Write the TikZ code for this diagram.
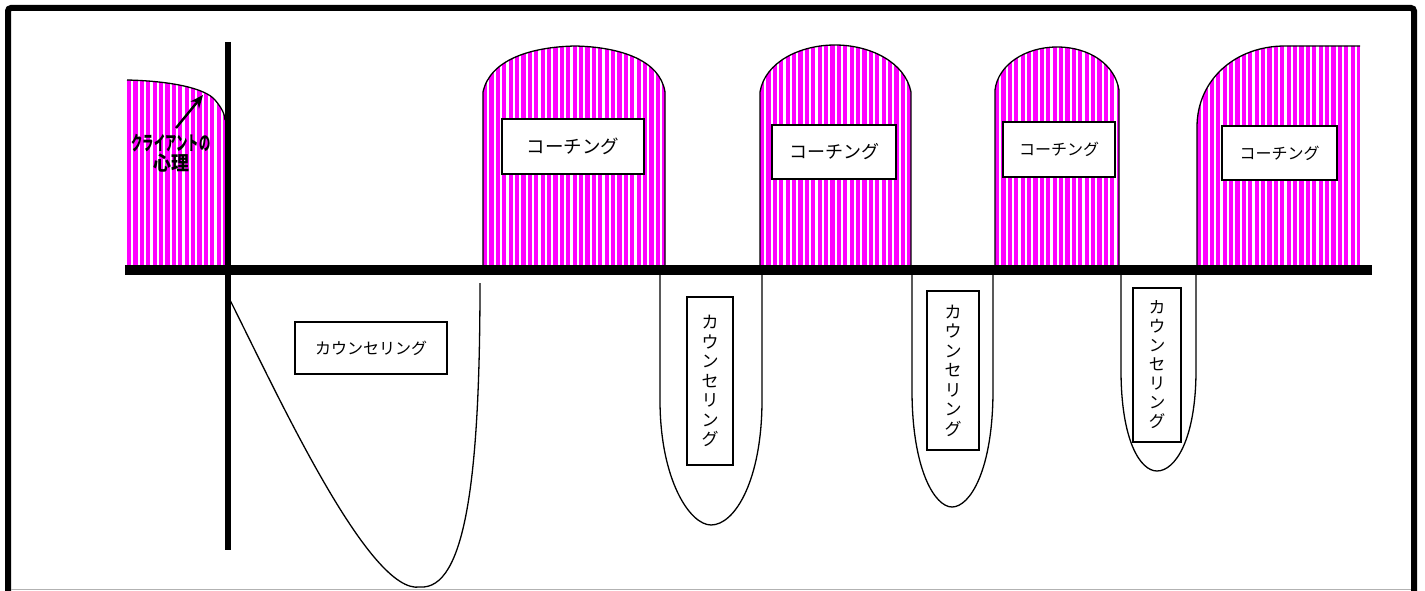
\documentclass[tikz,border=0pt]{standalone}
\usepackage{fontspec}
\usepackage{graphicx}
\newfontfamily\jp{Noto Sans CJK JP}
\usepackage{tikz}
\usetikzlibrary{arrows.meta,calc}

\definecolor{stripemag}{RGB}{255,0,255}
\tikzset{
  thinline/.style={line width=1.3pt},
  labelbox/.style={draw,line width=1.2pt,fill=white,inner sep=0pt,font=\jp},
  axisline/.style={line width=10pt},
}
% vertical magenta stripes between #1 and #2 (clipped by the scope)
\newcommand{\stripes}[2]{%
  \pgfmathsetmacro{\secondx}{#1+6.4}%
  \foreach \sx in {#1,\secondx,...,#2} {\fill[stripemag] (\sx,40) rectangle ++(4.2,230);}%
}

\begin{document}
\begin{tikzpicture}[x=1pt,y=-1pt]
            \useasboundingbox (0,0) rectangle (1425,591);

            % frame (open at the bottom)
            \draw[line width=6pt,rounded corners=3pt] (8,592) -- (8,8) -- (1414,8) -- (1414,592);
            \draw[gray!60,line width=0.8pt] (11,589.5) -- (1411,589.5);

            % coaching humps above the line
            \begin{scope}
              \clip (127,266) -- (127,80) .. controls (170,81) and (205,88) .. (215,100) .. controls (222,108) and (225,115) .. (225,120) -- (225,266) -- cycle;
              \stripes{127}{226}
            \end{scope}
            \draw[thinline] (127,80) .. controls (170,81) and (205,88) .. (215,100) .. controls (222,108) and (225,115) .. (225,120);

            \begin{scope}
              \clip (483,266) -- (483,92) .. controls (490,60) and (530,47) .. (575,46) .. controls (620,47) and (660,60) .. (665,92) -- (665,266) -- cycle;
              \stripes{483}{666}
            \end{scope}
            \draw[thinline] (483,266) -- (483,92) .. controls (490,60) and (530,47) .. (575,46) .. controls (620,47) and (660,60) .. (665,92) -- (665,266);

            \begin{scope}
              \clip (760,266) -- (760,92) .. controls (765,62) and (800,45) .. (835,45) .. controls (870,45) and (905,62) .. (911,92) -- (911,266) -- cycle;
              \stripes{760}{912}
            \end{scope}
            \draw[thinline] (760,266) -- (760,92) .. controls (765,62) and (800,45) .. (835,45) .. controls (870,45) and (905,62) .. (911,92) -- (911,266);

            \begin{scope}
              \clip (995,266) -- (995,90) .. controls (998,65) and (1025,47) .. (1057,47) .. controls (1090,47) and (1115,65) .. (1119,90) -- (1119,266) -- cycle;
              \stripes{995}{1120}
            \end{scope}
            \draw[thinline] (995,266) -- (995,90) .. controls (998,65) and (1025,47) .. (1057,47) .. controls (1090,47) and (1115,65) .. (1119,90) -- (1119,266);

            \begin{scope}
              \clip (1197,266) -- (1197,127) .. controls (1197,80) and (1235,46) .. (1285,46) -- (1360,46) -- (1360,266) -- cycle;
              \stripes{1197}{1361}
            \end{scope}
            \draw[thinline] (1197,266) -- (1197,127) .. controls (1197,80) and (1235,46) .. (1285,46) -- (1360,46);

            % counselling lobes below the line
            \draw[thinline] (230,300) .. controls (280,400) and (370,595) .. (420,587) .. controls (465,590) and (480,480) .. (480,283);
            \draw[thinline] (660,275) -- (660,400) .. controls (660,480) and (690,525) .. (711,525) .. controls (735,525) and (762,480) .. (762,400) -- (762,275);
            \draw[thinline] (912,275) -- (912,390) .. controls (912,470) and (935,507) .. (952,507) .. controls (970,507) and (993,470) .. (993,390) -- (993,275);
            \draw[thinline] (1121,275) -- (1121,370) .. controls (1121,440) and (1140,471) .. (1157,471) .. controls (1175,471) and (1196,440) .. (1196,370) -- (1196,275);

            % axes
            \draw[axisline] (125,270) -- (1372,270);
            \draw[line width=6pt] (228,42) -- (228,550);

            % labels
            \node[labelbox,minimum width=142pt,minimum height=55pt,font=\jp\fontsize{18.5}{20}\selectfont] (coach1) at (573,146.5) {コーチング};
            \node[labelbox,minimum width=124pt,minimum height=54pt,font=\jp\fontsize{18}{20}\selectfont] (coach2) at (834,152) {コーチング};
            \node[labelbox,minimum width=112pt,minimum height=55pt,font=\jp\fontsize{16}{18}\selectfont] (coach3) at (1059,149.5) {コーチング};
            \node[labelbox,minimum width=115pt,minimum height=54pt,font=\jp\fontsize{16}{18}\selectfont] (coach4) at (1279.5,153) {コーチング};

            \node[labelbox,minimum width=152pt,minimum height=52pt,font=\jp\fontsize{16}{18}\selectfont] (counsel1) at (371,348) {カウンセリング};
            \node[labelbox,minimum width=46pt,minimum height=168pt,align=center,font=\jp\fontsize{17}{19.5}\selectfont] (counsel2) at (710,381) {カ\\ウ\\ン\\セ\\リ\\ン\\グ};
            \node[labelbox,minimum width=52pt,minimum height=159pt,align=center,font=\jp\fontsize{17}{19.5}\selectfont] (counsel3) at (953,370.5) {カ\\ウ\\ン\\セ\\リ\\ン\\グ};
            \node[labelbox,minimum width=48pt,minimum height=154pt,align=center,font=\jp\fontsize{16.5}{19}\selectfont] (counsel4) at (1157,365) {カ\\ウ\\ン\\セ\\リ\\ン\\グ};

            \node[align=center,inner sep=0pt,font=\jp\bfseries\fontsize{19.5}{20}\selectfont] (client) at (171,153) {\scalebox{0.58}[1]{クライアントの}\\\scalebox{0.92}[1]{心理}};
            \coordinate (tail) at (176,128);
            \coordinate (tip) at (203,95);
            \draw[line width=2.4pt,-{Stealth[length=13pt,width=11pt]}] (tail) -- (tip);
        \end{tikzpicture}
\end{document}
